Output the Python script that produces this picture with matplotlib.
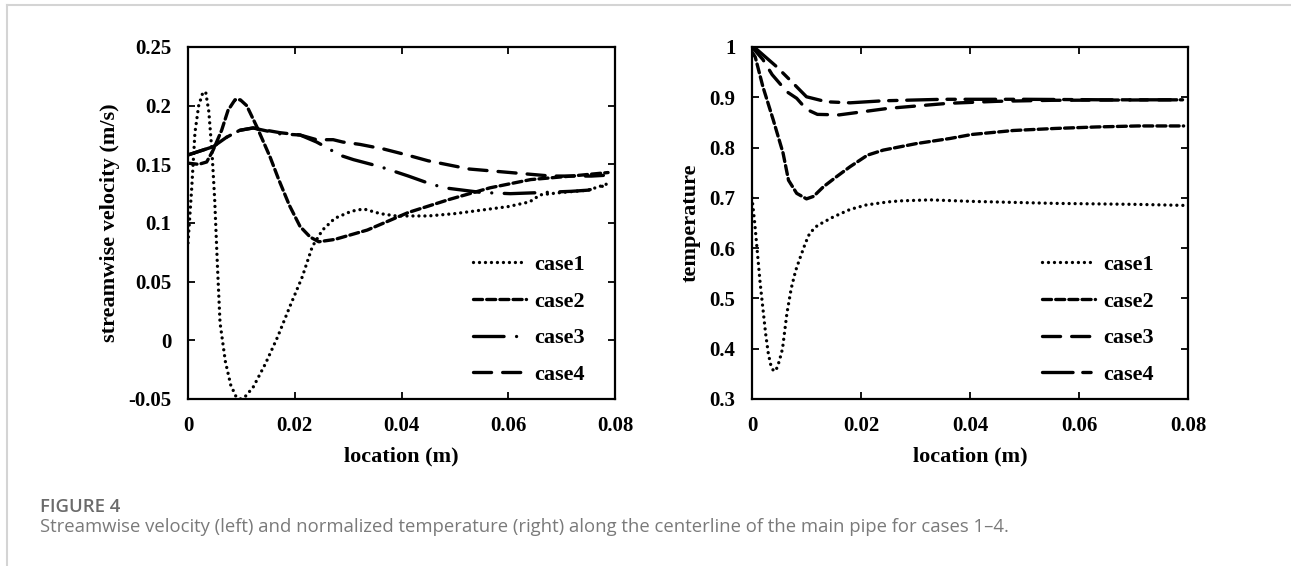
import matplotlib
matplotlib.use("Agg")
import matplotlib.pyplot as plt
from matplotlib.lines import Line2D

plt.rcParams['lines.scale_dashes'] = False

# ---- data: streamwise velocity (left) ----
v1_x = [0, 0.0007, 0.0013, 0.002, 0.0027, 0.0033, 0.0039, 0.0045, 0.005, 0.0055, 0.006, 0.007,
        0.008, 0.009, 0.0098, 0.0107, 0.0122, 0.0145, 0.0168, 0.0191, 0.0214, 0.0233, 0.0252,
        0.0275, 0.0306, 0.0329, 0.036, 0.039, 0.045, 0.050, 0.055, 0.060, 0.064, 0.066, 0.070,
        0.075, 0.079]
v1_y = [0.083, 0.13, 0.177, 0.2, 0.21, 0.212, 0.195, 0.16, 0.12, 0.065, 0.015, -0.018,
        -0.038, -0.048, -0.05, -0.048, -0.04, -0.02, 0.003, 0.029, 0.054, 0.08, 0.094,
        0.104, 0.11, 0.112, 0.108, 0.106, 0.106, 0.108, 0.111, 0.114, 0.118, 0.124, 0.126,
        0.128, 0.134]

v2_x = [0, 0.002, 0.0035, 0.0047, 0.0063, 0.0075, 0.0088, 0.0098, 0.011, 0.0129, 0.0154, 0.017,
        0.019, 0.021, 0.0229, 0.0245, 0.0275, 0.0336, 0.0413, 0.0489, 0.0566, 0.0642, 0.0718,
        0.0787]
v2_y = [0.151, 0.15, 0.152, 0.162, 0.179, 0.196, 0.205, 0.205, 0.2, 0.182, 0.156, 0.137,
        0.115, 0.097, 0.088, 0.084, 0.086, 0.094, 0.109, 0.12, 0.13, 0.137, 0.14, 0.143]

v3_x = [0, 0.0047, 0.0072, 0.0097, 0.0122, 0.0172, 0.021, 0.0241, 0.0265, 0.0283, 0.031, 0.036,
        0.0413, 0.045, 0.048, 0.055, 0.0604, 0.0665, 0.0718, 0.075, 0.079]
v3_y = [0.158, 0.165, 0.173, 0.179, 0.181, 0.176, 0.175, 0.169, 0.163, 0.158, 0.154, 0.148,
        0.14, 0.134, 0.13, 0.126, 0.125, 0.126, 0.127, 0.128, 0.133]

v4_x = [0, 0.0047, 0.0072, 0.0097, 0.0122, 0.0172, 0.021, 0.0241, 0.0272, 0.029, 0.0322, 0.0367,
        0.041, 0.045, 0.0527, 0.0604, 0.068, 0.0756, 0.0795]
v4_y = [0.158, 0.165, 0.173, 0.179, 0.181, 0.177, 0.175, 0.171, 0.171, 0.169, 0.167, 0.163,
        0.158, 0.153, 0.146, 0.143, 0.140, 0.140, 0.141]

# ---- data: normalized temperature (right) ----
t1_x = [0, 0.0005, 0.001, 0.0015, 0.002, 0.0025, 0.003, 0.0035, 0.004, 0.0045, 0.005, 0.0056,
        0.0064, 0.0072, 0.008, 0.0088, 0.0098, 0.0106, 0.012, 0.0149, 0.018, 0.021, 0.025,
        0.0272, 0.0327, 0.0403, 0.0556, 0.0708, 0.0792]
t1_y = [0.70, 0.65, 0.59, 0.53, 0.48, 0.43, 0.39, 0.365, 0.355, 0.36, 0.375, 0.40,
        0.47, 0.52, 0.555, 0.58, 0.61, 0.63, 0.645, 0.662, 0.677, 0.686, 0.692,
        0.694, 0.696, 0.693, 0.689, 0.687, 0.685]

t2_x = [0, 0.0006, 0.002, 0.0039, 0.0057, 0.0067, 0.0082, 0.01, 0.0113, 0.0131, 0.0155, 0.018,
        0.0212, 0.0241, 0.0302, 0.0363, 0.0403, 0.048, 0.0556, 0.0632, 0.0708, 0.0792]
t2_y = [0.99, 0.98, 0.921, 0.855, 0.789, 0.735, 0.709, 0.698, 0.703, 0.722, 0.742, 0.762,
        0.785, 0.795, 0.808, 0.818, 0.826, 0.834, 0.838, 0.841, 0.843, 0.843]

t3_x = [0, 0.002, 0.0037, 0.0064, 0.0082, 0.01, 0.012, 0.016, 0.025, 0.036, 0.045, 0.055, 0.079]
t3_y = [1.0, 0.975, 0.945, 0.911, 0.898, 0.876, 0.866, 0.865, 0.878, 0.888, 0.892, 0.894, 0.895]

t4_x = [0, 0.0009, 0.0045, 0.007, 0.01, 0.0137, 0.018, 0.024, 0.035, 0.05, 0.065, 0.079]
t4_y = [1.0, 0.995, 0.961, 0.934, 0.901, 0.891, 0.889, 0.893, 0.896, 0.896, 0.895, 0.895]

labels = ['case1', 'case2', 'case3', 'case4']
x_ticks = [0, 0.02, 0.04, 0.06, 0.08]
x_ticklabels = ['0', '0.02', '0.04', '0.06', '0.08']
v_ticks = [-0.05, 0, 0.05, 0.1, 0.15, 0.2, 0.25]
v_ticklabels = ['-0.05', '0', '0.05', '0.1', '0.15', '0.2', '0.25']
t_ticks = [0.3, 0.4, 0.5, 0.6, 0.7, 0.8, 0.9, 1.0]
t_ticklabels = ['0.3', '0.4', '0.5', '0.6', '0.7', '0.8', '0.9', '1']

SERIF = 'Liberation Serif'
LW = 2.4
dot = (0, (0.01, 4.3))
short_dash = (0, (6.5, 3.0))
dash_dot = (0, (22, 9, 0.01, 9))
long_dash = (0, (13, 8))
long_short = (0, (22, 7, 6, 7))

fig = plt.figure(figsize=(12.91, 5.66), dpi=100)

# page border lines
fig.add_artist(Line2D([7/1291, 1], [1 - 5/566, 1 - 5/566], color='#d4d4d4', lw=1.5))
fig.add_artist(Line2D([7/1291, 7/1291], [0, 1 - 5/566], color='#d4d4d4', lw=1.5))

ax1 = fig.add_axes([188/1291, 167/566, 427/1291, 352/566])
ax2 = fig.add_axes([752/1291, 167/566, 436/1291, 352/566])


def style(ax, yticks, yticklabels, ylim, ylabel):
    ax.set_xlim(0, 0.08)
    ax.set_ylim(*ylim)
    ax.set_xticks(x_ticks)
    ax.set_xticklabels(x_ticklabels)
    ax.set_yticks(yticks)
    ax.set_yticklabels(yticklabels)
    ax.tick_params(direction='in', top=True, right=True, length=5, width=1.3,
                   labelsize=15, pad=12)
    for lab in ax.get_xticklabels() + ax.get_yticklabels():
        lab.set_fontfamily(SERIF)
        lab.set_fontweight('bold')
    for s in ax.spines.values():
        s.set_linewidth(1.6)
    ax.set_xlabel('location (m)', fontfamily=SERIF, fontweight='bold', fontsize=16, labelpad=8)
    ax.set_ylabel(ylabel, fontfamily=SERIF, fontweight='bold', fontsize=16, labelpad=6)


def draw(ax, xs, ys, ls):
    ax.plot(xs, ys, color='black', lw=LW, linestyle=ls, dash_capstyle='round')


# left panel
draw(ax1, v1_x, v1_y, dot)
draw(ax1, v2_x, v2_y, short_dash)
draw(ax1, v3_x, v3_y, dash_dot)
draw(ax1, v4_x, v4_y, long_dash)
style(ax1, v_ticks, v_ticklabels, (-0.05, 0.25), 'streamwise velocity (m/s)')

# right panel
draw(ax2, t1_x, t1_y, dot)
draw(ax2, t2_x, t2_y, short_dash)
draw(ax2, t3_x, t3_y, long_dash)
draw(ax2, t4_x, t4_y, long_short)
style(ax2, t_ticks, t_ticklabels, (0.3, 1.0), 'temperature')

for ax, x0 in [(ax1, 0.667), (ax2, 0.665)]:
    ax.legend(ax.get_lines(), labels, loc='upper left', bbox_to_anchor=(x0, 0.41),
              frameon=False, prop={'family': SERIF, 'weight': 'bold', 'size': 16},
              handlelength=2.4, handletextpad=0.35, labelspacing=0.72,
              borderpad=0, borderaxespad=0)

# caption
fig.text(40/1291, 1 - 507/566, 'FIGURE 4', fontfamily='Open Sans', fontweight='semibold',
         fontsize=13.3, color='#6b6b6b', va='center', ha='left')
fig.text(40/1291, 1 - 527/566,
         'Streamwise velocity (left) and normalized temperature (right) along the centerline '
         'of the main pipe for cases 1\u20134.',
         fontfamily='Open Sans', fontsize=13.3, color='#7a7a7a', va='center', ha='left')

fig.savefig('out.png', dpi=100)
